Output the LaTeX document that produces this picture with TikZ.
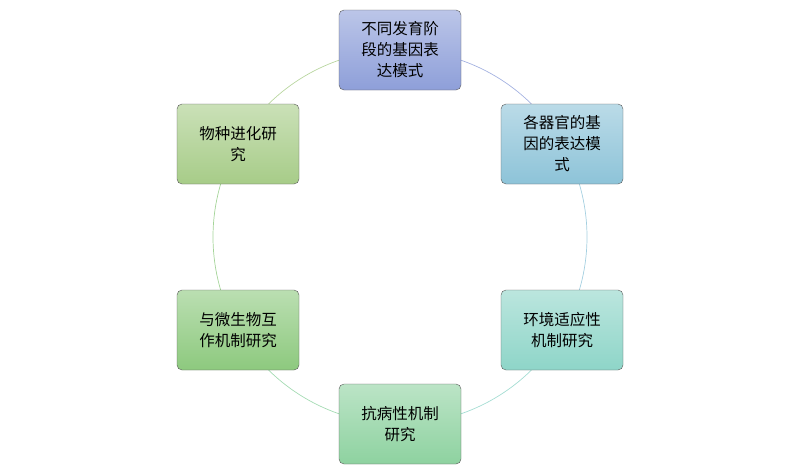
\documentclass[tikz,border=0pt]{standalone}
\usepackage{fontspec}
\newfontfamily\cjk{Noto Sans CJK SC}
\definecolor{bxA}{HTML}{8E9FD9}
\definecolor{bxB}{HTML}{8DC3D8}
\definecolor{bxC}{HTML}{8ED5C8}
\definecolor{bxD}{HTML}{8ED2A0}
\definecolor{bxE}{HTML}{8DC97E}
\definecolor{bxF}{HTML}{A7CC88}
\tikzset{
  box/.style={draw=black!65, rounded corners=5pt, minimum width=122pt, minimum height=80pt,
    align=center, font=\cjk\fontsize{15.5pt}{21pt}\selectfont, text=black},
  ring/.style={line width=0.7pt}
}
\begin{document}
\begin{tikzpicture}[x=1pt,y=-1pt]
  \useasboundingbox (0,0) rectangle (800,469);
  \coordinate (O) at (400,237);
  % ring, one arc per neighbour pair (y axis points down)
  \draw[ring, bxA!80] (O) ++(-90:187) arc[start angle=-90, end angle=-30, radius=187];
  \draw[ring, bxB!80] (O) ++(-30:187) arc[start angle=-30, end angle=30, radius=187];
  \draw[ring, bxC!80] (O) ++(30:187) arc[start angle=30, end angle=90, radius=187];
  \draw[ring, bxD!80] (O) ++(90:187) arc[start angle=90, end angle=150, radius=187];
  \draw[ring, bxE!80] (O) ++(150:187) arc[start angle=150, end angle=210, radius=187];
  \draw[ring, bxF!80] (O) ++(210:187) arc[start angle=210, end angle=270, radius=187];
  % boxes
  \node[box, top color=bxA!60, bottom color=bxA] (stage) at (400,50) {不同发育阶\\段的基因表\\达模式};
  \node[box, top color=bxB!60, bottom color=bxB] (organ) at (562,144) {各器官的基\\因的表达模\\式};
  \node[box, top color=bxC!60, bottom color=bxC] (envir) at (562,330) {环境适应性\\机制研究};
  \node[box, top color=bxD!60, bottom color=bxD] (disease) at (400,424) {抗病性机制\\研究};
  \node[box, top color=bxE!60, bottom color=bxE] (microbe) at (238,330) {与微生物互\\作机制研究};
  \node[box, top color=bxF!60, bottom color=bxF] (evol) at (238,144) {物种进化研\\究};
\end{tikzpicture}
\end{document}
